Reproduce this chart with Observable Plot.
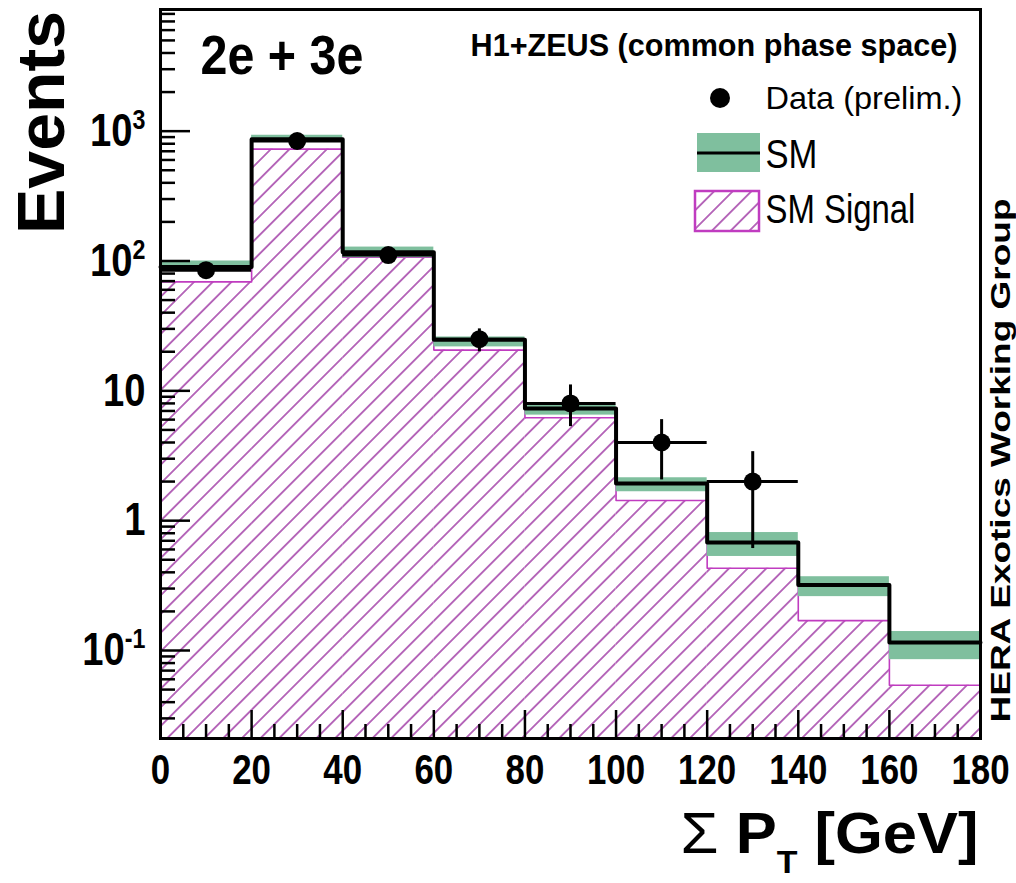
<!DOCTYPE html>
<html><head><meta charset="utf-8">
<script src="https://cdn.jsdelivr.net/npm/d3@7"></script>
<script src="https://cdn.jsdelivr.net/npm/@observablehq/plot@0.6"></script>
<style>
html,body{margin:0;padding:0;background:#fff;}
#chart svg{display:block;}
</style></head>
<body><div id="chart"></div>
<script>
// ---------- data ----------
const binLo      = [0, 20, 40, 60, 80, 100, 120, 140, 160];
const binHi      = [20, 40, 60, 80, 100, 120, 140, 160, 180];
const smTotal    = [90, 868, 117, 24.7, 7.3, 1.93, 0.68, 0.32, 0.115];
const smBandLo   = [84, 820, 106, 21.8, 6.5, 1.67, 0.53, 0.26, 0.085];
const smBandHi   = [100, 930, 128, 26.0, 7.8, 2.14, 0.81, 0.37, 0.14];
const smSignal   = [69, 727, 107, 20.6, 6.2, 1.43, 0.43, 0.17, 0.054];

const dataX      = [10, 30, 50, 70, 90, 110, 130];
const dataXLo    = [0, 20, 40, 60, 80, 100, 120];
const dataXHi    = [20, 40, 60, 80, 100, 120, 140];
const dataY      = [85, 840, 111, 25, 8, 4, 2];
const dataErrLo  = [76, 811, 100, 20, 5.3, 2.06, 0.61];
const dataErrHi  = [94, 869, 122, 30, 11.1, 6.0, 3.4];

const xTickValues = [0, 20, 40, 60, 80, 100, 120, 140, 160, 180];
const yTickValues = [0.1, 1, 10, 100, 1000];
const yTickLabels = ["10^-1", "1", "10", "10^2", "10^3"];
const xDomain = [0, 180];
const yDomain = [0.021, 8650];

const titleLeft   = "2e + 3e";
const titleRight  = "H1+ZEUS (common phase space)";
const legendLabels = ["Data (prelim.)", "SM", "SM Signal"];
const sideLabel   = "HERA Exotics Working Group";
const yTitle      = "Events";

// ---------- derived tables ----------
const bins = binLo.map((lo, i) => ({lo, hi: binHi[i], sm: smTotal[i], bLo: smBandLo[i], bHi: smBandHi[i], sig: smSignal[i]}));
const steps = bins.flatMap(b => [{x: b.lo, sm: b.sm, sig: b.sig}, {x: b.hi, sm: b.sm, sig: b.sig}]);
const data = dataX.map((x, i) => ({x, xlo: dataXLo[i], xhi: dataXHi[i], y: dataY[i], lo: dataErrLo[i], hi: dataErrHi[i]}));

const xMinor = d3.range(xDomain[0], xDomain[1] + 1, 5).filter(v => v % 20 !== 0);
const yMinor = [];
for (const dec of [0.01, 0.1, 1, 10, 100, 1000]) for (let k = 2; k <= 9; k++) {
  const v = +(k * dec).toPrecision(3);
  if (v >= yDomain[0] && v <= yDomain[1]) yMinor.push(v);
}

const W = 1016, H = 883, mL = 160, mR = 36, mT = 9, mB = 145;
const innerW = W - mL - mR, innerH = H - mT - mB;

const hatchColor = "#9a2fa0", sigLine = "#c03cc0", green = "#7fbf9e";

const defsMark = () => {
  const defs = d3.create("svg:defs");
  const p = defs.append("pattern").attr("id", "hatchSig").attr("patternUnits", "userSpaceOnUse")
    .attr("width", 13.2).attr("height", 13.2).attr("patternTransform", "rotate(45)");
  p.append("rect").attr("width", 13.2).attr("height", 13.2).attr("fill", "white");
  p.append("line").attr("x1", 6.6).attr("x2", 6.6).attr("y1", -1).attr("y2", 14.2)
    .attr("stroke", hatchColor).attr("stroke-width", 1.4);
  return defs.node();
};

const legendMark = (index, scales, values, dims) => {
  const right = dims.width - dims.marginRight, top = dims.marginTop;
  const g = d3.create("svg:g");
  g.append("circle").attr("cx", right - 260).attr("cy", top + 89).attr("r", 10).attr("fill", "black");
  g.append("rect").attr("x", right - 283).attr("y", top + 124).attr("width", 63).attr("height", 39).attr("fill", green);
  g.append("line").attr("x1", right - 283).attr("x2", right - 220).attr("y1", top + 144).attr("y2", top + 144)
    .attr("stroke", "black").attr("stroke-width", 3);
  g.append("rect").attr("x", right - 285).attr("y", top + 182).attr("width", 64).attr("height", 40)
    .attr("fill", "url(#hatchSig)").attr("stroke", sigLine).attr("stroke-width", 2.5);
  return g.node();
};

const FONT = "'Liberation Sans', Arial, Helvetica, sans-serif";

const chart = Plot.plot({
  width: W, height: H,
  marginLeft: mL, marginRight: mR, marginTop: mT, marginBottom: mB,
  style: {fontFamily: FONT, background: "white", color: "black"},
  x: {domain: xDomain, axis: null},
  y: {type: "log", domain: yDomain, axis: null},
  marks: [
    defsMark,
    Plot.rect(bins, {x1: "lo", x2: "hi", y1: () => yDomain[0], y2: "sig", fill: "url(#hatchSig)"}),
    Plot.line(steps, {x: "x", y: "sig", stroke: sigLine, strokeWidth: 1.6}),
    Plot.rect(bins, {x1: "lo", x2: "hi", y1: "bLo", y2: "bHi", fill: green}),
    Plot.line(steps, {x: "x", y: "sm", stroke: "black", strokeWidth: 4}),
    Plot.ruleY(data, {y: "y", x1: "xlo", x2: "xhi", stroke: "black", strokeWidth: 3}),
    Plot.ruleX(data, {x: "x", y1: "lo", y2: "hi", stroke: "black", strokeWidth: 3}),
    Plot.dot(data, {x: "x", y: "y", r: 9, fill: "black"}),
    // ticks inside the frame
    Plot.ruleX(xTickValues, {x: d => d, insetTop: innerH - 28, stroke: "black", strokeWidth: 2.5}),
    Plot.ruleX(xMinor, {x: d => d, insetTop: innerH - 14, stroke: "black", strokeWidth: 2.5}),
    Plot.ruleY(yTickValues, {y: d => d, insetRight: innerW - 30, stroke: "black", strokeWidth: 2.5}),
    Plot.ruleY(yMinor, {y: d => d, insetRight: innerW - 15, stroke: "black", strokeWidth: 2.5}),
    Plot.frame({stroke: "black", strokeWidth: 3}),
    // tick labels
    Plot.text(xTickValues, {x: d => d, frameAnchor: "bottom", dy: 45, lineAnchor: "bottom",
      text: d => String(d), fontSize: 42, fontWeight: "bold", fill: "black", ariaLabel: () => "xlab"}),
    Plot.text(yTickValues, {y: d => d, frameAnchor: "left", dx: -15, textAnchor: "end", lineAnchor: "middle",
      text: (d, i) => yTickLabels[i], fontSize: 46, fontWeight: "bold", fill: "black", ariaLabel: () => "ylab"}),
    // titles
    Plot.text([yTitle], {frameAnchor: "top-left", dx: -97, dy: 113, rotate: -90, textAnchor: "middle",
      lineAnchor: "bottom", text: d => d, fontSize: 66, fontWeight: "bold", fill: "black", ariaLabel: () => "ytitle"}),
    Plot.text(["Σ PT [GeV]"], {frameAnchor: "bottom-right", dx: -2, dy: 114, textAnchor: "end",
      lineAnchor: "bottom", text: d => d, fontSize: 58, fontWeight: "bold", fill: "black", ariaLabel: () => "xtitle"}),
    Plot.text([sideLabel], {frameAnchor: "top-right", dx: 29, dy: 451, rotate: -90, textAnchor: "middle",
      lineAnchor: "bottom", text: d => d, fontSize: 28, fontWeight: "bold", fill: "black", ariaLabel: () => "side"}),
    Plot.text([titleLeft], {frameAnchor: "top-left", dx: 40, dy: 64, textAnchor: "start", lineAnchor: "bottom",
      text: d => d, fontSize: 55, fontWeight: "bold", fill: "black", ariaLabel: () => "tleft"}),
    Plot.text([titleRight], {frameAnchor: "top-right", dx: -23, dy: 46, textAnchor: "end", lineAnchor: "bottom",
      text: d => d, fontSize: 32, fontWeight: "bold", fill: "black", ariaLabel: () => "tright"}),
    // legend
    legendMark,
    Plot.text([legendLabels[0]], {frameAnchor: "top-right", dx: -215, dy: 99, textAnchor: "start", lineAnchor: "bottom",
      text: d => d, fontSize: 32, fill: "black", ariaLabel: () => "leg0"}),
    Plot.text([legendLabels[1]], {frameAnchor: "top-right", dx: -215, dy: 158, textAnchor: "start", lineAnchor: "bottom",
      text: d => d, fontSize: 40, fill: "black", ariaLabel: () => "leg1"}),
    Plot.text([legendLabels[2]], {frameAnchor: "top-right", dx: -215, dy: 213, textAnchor: "start", lineAnchor: "bottom",
      text: d => d, fontSize: 40, fill: "black", ariaLabel: () => "leg2"})
  ]
});

document.getElementById("chart").appendChild(chart);

// ---------- text post-processing ----------
const svg = d3.select(chart);
function scaleText(el, s) {
  el.setAttribute("transform", (el.getAttribute("transform") || "") + ` scale(${s},1)`);
}
function fitWidth(sel, target) {
  svg.selectAll(sel).each(function() {
    const w = this.getComputedTextLength();
    if (w > 0) scaleText(this, target / w);
  });
}
// superscripts on the y tick labels
svg.selectAll('text[aria-label="ylab"]').each(function() {
  const t = this.textContent;
  const m = /^10\^(-?\d+)$/.exec(t);
  if (m) {
    this.textContent = "10";
    d3.select(this).append("tspan").attr("font-size", 28).attr("dy", -17).text(m[1]);
  }
});
svg.selectAll('text[aria-label="ylab"], text[aria-label="xlab"]').each(function() { scaleText(this, 0.83); });

// x title with subscript
svg.selectAll('text[aria-label="xtitle"]').each(function() {
  const s = d3.select(this);
  this.textContent = "";
  s.append("tspan").attr("font-weight", "normal").text("Σ ");
  s.append("tspan").text("P");
  s.append("tspan").attr("font-size", 32).attr("dy", 20).text("T");
  s.append("tspan").attr("dy", -20).text(" [GeV]");
});
fitWidth('text[aria-label="xtitle"]', 298);
fitWidth('text[aria-label="ytitle"]', 223);
fitWidth('text[aria-label="side"]', 524);
fitWidth('text[aria-label="tleft"]', 163);
fitWidth('text[aria-label="tright"]', 487);
fitWidth('text[aria-label="leg0"]', 197);
fitWidth('text[aria-label="leg1"]', 52);
fitWidth('text[aria-label="leg2"]', 150);
</script>
</body></html>
